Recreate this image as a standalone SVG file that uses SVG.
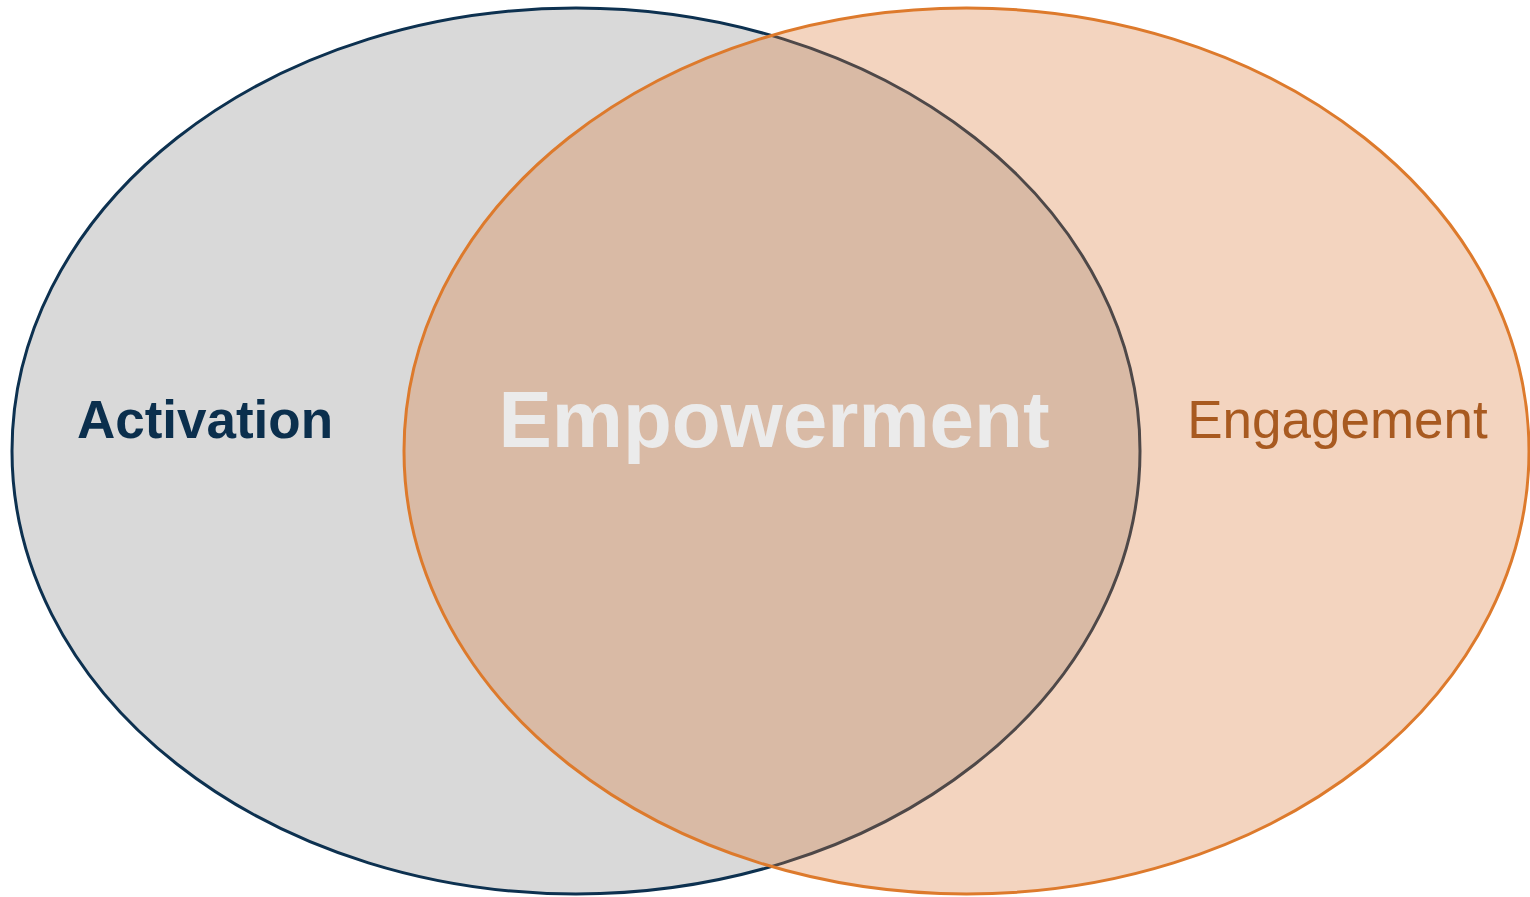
<svg xmlns="http://www.w3.org/2000/svg" width="1530" height="897" viewBox="0 0 1530 897">
<style>
.lbl{font-family:"Liberation Sans",Arial,sans-serif;text-anchor:middle}
</style>
<rect width="1530" height="897" fill="#ffffff"/>
<g id="activation">
<ellipse cx="576" cy="451" rx="564" ry="443" fill="#d9d9d9" stroke="#0d3150" stroke-width="3"/>
<text class="lbl" x="205" y="438" font-size="53" font-weight="bold" fill="#0b2f4d">Activation</text>
</g>
<g id="engagement">
<ellipse cx="966.5" cy="451" rx="562.5" ry="443" fill="#d97a38" fill-opacity="0.32" stroke="#dd7a2c" stroke-width="3"/>
<text class="lbl" x="1337.5" y="438" font-size="53" fill="#a85a20">Engagement</text>
</g>
<g id="empowerment">
<text class="lbl" x="774" y="447" font-size="80" font-weight="bold" fill="#ebebeb">Empowerment</text>
</g>
<g id="connectors"></g>
</svg>
